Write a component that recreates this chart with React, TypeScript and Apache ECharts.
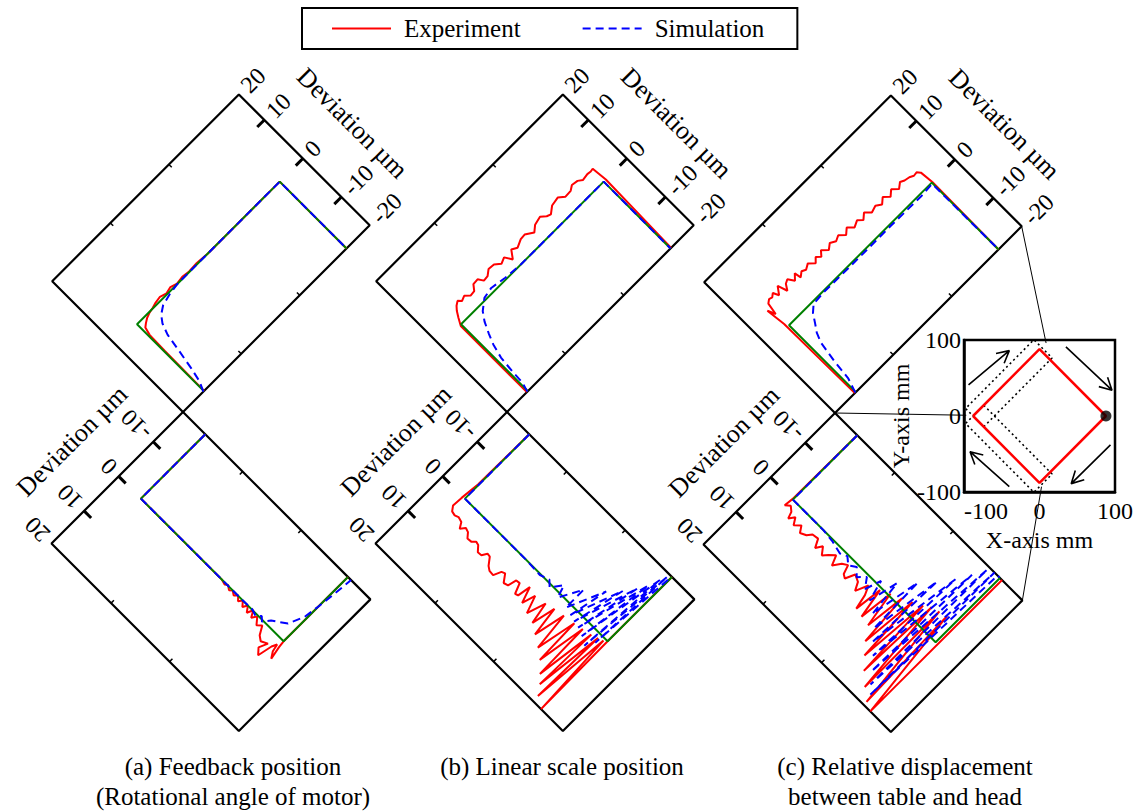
import React, { useEffect, useRef } from "react";
import * as echarts from "echarts";

// ---------------- data: [position along side (mm), deviation (µm)] ----------------
const legendNames = ["Experiment", "Simulation"];
const devTicksTop = [10, 0, -10];
const devTicksBottom = [-10, 0, 10];
const posTicks = [37, 95];
const cornerLabelsTop = ["20", "-20"];
const cornerLabelsBottom = ["20"];
const captions = [
  ["(a) Feedback position", "(Rotational angle of motor)"],
  ["(b) Linear scale position"],
  ["(c) Relative displacement", "between table and head"],
];

const commandPath = [[0, -20], [0, 0], [141.4, 0], [141.4, -20]];

const expATop = [[0.3, -20], [0.6, -7], [1, -3], [2.5, -1.5], [5, -1], [8, -0.5], [12, -0.1], [16, 0.1], [20, 0.4], [25, 0.6], [30, 0.2], [35, 0.5], [40, 0.1], [46, 0.3], [52, 0.1], [60, 0.2], [70, 0], [141.4, 0], [141.4, -20]];
const simATop = [[-0.5, -20], [2.7, -15.5], [5.1, -12.7], [7.6, -9], [10, -5.3], [13, -3.2], [16.7, -1.9], [22.4, -0.9], [31.5, -0.3], [40, 0], [141.4, 0], [141.4, -20]];
const expABot = [[0, -20], [0, 0], [80, 0], [84, 0.3], [86, -0.1], [89, 0.5], [91, 0], [94, 0.6], [96, -0.1], [99, 0.8], [101, 0], [104, 1.0], [106, 0], [109, 1.2], [111, -0.1], [113.7, 1.3], [116, 0.2], [120, 1.6], [123, 0.8], [126.6, 2.6], [130, 3.3], [134.8, 2.6], [132, 4.5], [135.7, 5.7], [138, 2.5], [139.8, 1.4], [141, 3], [143.9, 4.3], [142, 1.5], [141.4, 0], [141.4, -20]];
const simABot = [[0, -20], [0, 0], [100, 0], [110, -0.1], [115, 0.4], [118, -0.5], [121, 0.3], [124.9, -1.2], [129, -2], [134.8, -3.2], [139.7, -6.6], [141.4, -10], [143.1, -14.3], [144.5, -20]];

const expBTop = [[-1, -20], [-1, -0.2], [2, 1.2], [4.6, 2.3], [7, 3.0], [9.9, 3.5], [12, 2.9], [15.7, 3.3], [19, 2.5], [23, 2.6], [26, 3.6], [30.5, 3.7], [33, 2.7], [37, 2.8], [41, 3.6], [46, 3.5], [50, 2.6], [54.5, 3.1], [57.8, 1.7], [62, 3.2], [66, 2.6], [71.8, 3.3], [76, 3.4], [81.8, 2.4], [86, 3.3], [92.4, 3.7], [96, 2.9], [99, 2.6], [104, 3.6], [110.7, 3.9], [115, 3.0], [120.5, 3.1], [124, 3.7], [128.8, 3.5], [132, 2.9], [137, 3.1], [140, 3.0], [142.3, 3.1], [143.5, 0], [142, -20]];
const simBTop = [[-0.5, -20], [1.6, -15.5], [2, -13], [3.3, -9.5], [6, -6.8], [9, -4.9], [13, -2.7], [17.3, -1.1], [24.7, 0.4], [33, 0.8], [45, 0.3], [60, 0], [141.4, 0], [141.4, -20]];
const expBBot = [[0, -20], [-0.5, -4], [-2, 0.3], [-2.5, 2.7], [0, 3.7], [3.2, 3.9], [6, 3.6], [9.8, 3.9], [12.3, 5.1], [15, 4.1], [18.1, 4.4], [21, 5.4], [24.7, 5.3], [27, 4.6], [29.6, 4.8], [33, 5.9], [36.2, 5.8], [38.5, 4.7], [41.1, 4.8], [45, 6.3], [48, 6.9], [51.9, 7.0], [54.4, 5.3], [57, 5.0], [61, 6.6], [64.3, 6.3], [66, 4.4], [69, 4.3], [72, 6.5], [74.3, 6.3], [76, 3.4], [80, 6.8], [83, 3.9], [87.5, 7.6], [92, 3.5], [95, 8.2], [99, 3.0], [102, 9.5], [107, 2.6], [110, 11], [116, 2.2], [117, 12.5], [123, 1.8], [124, 14.5], [130, 1.4], [129, 16], [135, 0.9], [134, 18], [139, 0.5], [142, 20], [141.4, 0], [141.4, -20]];
const simBBot = [[0, -20], [0, 0], [60, 0], [75, 0.2], [82, -0.5], [86, 0.6], [92, -1.8], [95, 0.9], [104, -4], [104, 1.2], [116, -7], [110, 1.6], [124, -9.5], [115, 2], [130, -12], [120, 2.3], [134, -14], [126, 3], [137, -16.5], [132, 4], [139, -18], [136, 2], [141, -20]];

const expCTop = [[-1, -20], [-1.8, 0.8], [-3.5, 4.7], [-1, 3.2], [0.5, 5.5], [3.1, 6], [5.5, 5.8], [8, 6.3], [10, 5.2], [13.9, 6.6], [16.3, 4.7], [19, 5.8], [22, 6.2], [25, 5], [28.6, 6], [29.5, 4.7], [33, 5.4], [36, 5.0], [40, 5.6], [44, 4.6], [47, 5.4], [50, 4.7], [53, 5.6], [57, 4.6], [61, 5.4], [65, 4.8], [69, 5.3], [73, 4.3], [77, 5.2], [81, 4.2], [85.7, 4.8], [89, 4.0], [93, 4.9], [97, 3.9], [102, 4.3], [106, 3.6], [110, 4.5], [114, 3.5], [118, 4.4], [122, 3.4], [126, 4.2], [129, 3.8], [133, 3.6], [136, 3.2], [139, 3.3], [141, 2.7], [142, 0], [141.4, -20]];
const simCTop = [[-0.5, -20], [3.1, -14.5], [4.7, -10.5], [7.2, -6.4], [10, -4.6], [13.7, -3.2], [18, -1.5], [22.8, -0.4], [28, -0.3], [33.7, -0.2], [60, -0.3], [100, -0.3], [130, -0.4], [141, -0.2], [141.4, -20]];
const expCBot = [[0, -20], [-0.5, 0], [-1.3, 2], [2, 1.2], [5.3, 2], [7, 3.4], [10, 2.2], [13, 3.6], [17, 2.5], [20, 3.8], [24.4, 3.2], [27, 2.2], [31.8, 2.0], [35, 3.8], [38, 2.4], [42, 3.9], [45, 2.9], [49, 1.8], [52, 3.9], [56, 2.2], [59.8, 1.5], [62, 3.4], [64.8, 3.9], [68, 1.8], [73, 2.5], [76, 4.2], [80, 1.5], [83, 3.4], [85.4, 6.6], [88, 0.5], [92, 7], [95, -0.5], [99.5, 7.3], [103, -1.5], [106, 10], [110, -2.5], [112.7, 12.2], [117, -3.5], [120, 14.5], [122, -4.5], [128.4, 16.7], [128, -5], [136.7, 18.6], [134, -5.5], [143.3, 20], [143.5, -20]];
const simCBot = [[0, -20], [0, 0], [30, 0], [40, 0.3], [50, 1], [55, 0.3], [60, 1.5], [65, 0.5], [70, 2], [75, 0.5], [80, 2.5], [84, -1], [88, 3.5], [93, -3], [96, 5], [103, -6], [104, 7], [112, -9], [110, 9], [120, -12], [117, 11], [126, -15], [124, 13.5], [131, -18], [130, 15.5], [136, -19], [135, 17], [139, -19], [141, -20]];

// inset (X-axis mm, Y-axis mm)
const squarePath = [[-88, 0], [0, 88], [88, 0], [0, -88], [-88, 0]];
const startPoint = [[88, 0]];
const arrows = [[-94, 41, -40, 86], [35, 91, 96, 34], [94, -38, 42, -89], [-40, -93, -92, -47]];
const bandAlong = [0, 128];
const bandNormal = [-20, 14];
const linkTargets = [[8, 96], [-97, 1], [2, -93]];

// ---------------- geometry helpers ----------------
const C = Math.SQRT1_2;
const PANEL_M = [[183, 412], [507, 412], [835, 413]];

function makeRect(M: number[], top: boolean) {
  return top
    ? { M, eu: [C, -C], ev: [-C, -C], UL: 264, VL: 185, U0: 29.5, KS: 1.427, V0: 94.5, KD: 5.45, top }
    : { M, eu: [C, C], ev: [-C, C], UL: 265, VL: 186, U0: 31.5, KS: 1.427, V0: 91, KD: 4.89, top };
}
function raw(r: any, u: number, v: number) {
  return [r.M[0] + r.eu[0] * u + r.ev[0] * v, r.M[1] + r.eu[1] * u + r.ev[1] * v];
}
function toPage(r: any, s: number, d: number) {
  let u = r.U0 + r.KS * s;
  let v = r.V0 + r.KD * d;
  u = Math.max(0, Math.min(r.UL, u));
  v = Math.max(0, Math.min(r.VL, v));
  return raw(r, u, v);
}
const IX0 = 964, IY0 = 340, IW = 152, IH = 152;
function insetToPage(x: number, y: number) {
  return [IX0 + ((x + 100) / 200) * IW, IY0 + ((100 - y) / 200) * IH];
}

const FONT = "Liberation Serif";

export default function App() {
  const ref = useRef<HTMLDivElement>(null);
  useEffect(() => {
    if (!ref.current) return;
    const chart = echarts.init(ref.current, undefined, { renderer: "svg" });
    const series: any[] = [];
    const graphics: any[] = [];
    const pageLine = (data: number[][], color: string, width: number, z = 1, extra: any = {}) => ({
      type: "line", xAxisIndex: 0, yAxisIndex: 0, data, showSymbol: false, symbol: "none",
      itemStyle: { color }, color,
      lineStyle: { color, width, ...(extra.lineStyle || {}) }, silent: true, z, animation: false,
      ...(extra.name ? { name: extra.name } : {}),
    });

    const panelData = [
      [expATop, simATop, expABot, simABot],
      [expBTop, simBTop, expBBot, simBBot],
      [expCTop, simCTop, expCBot, simCBot],
    ];

    PANEL_M.forEach((M, pi) => {
      [true, false].forEach((top) => {
        const r = makeRect(M, top);
        const exp = top ? panelData[pi][0] : panelData[pi][2];
        const sim = top ? panelData[pi][1] : panelData[pi][3];
        const frame = [[0, 0], [r.UL, 0], [r.UL, r.VL], [0, r.VL], [0, 0]].map(([u, v]) => raw(r, u, v));
        series.push(pageLine(frame, "#000", 2.2, 1));
        // small position ticks on the long edges
        posTicks.forEach((s) => {
          const u = r.U0 + r.KS * s;
          series.push(pageLine([raw(r, u, 0), raw(r, u, 4)], "#000", 1.5, 1));
          series.push(pageLine([raw(r, u, r.VL), raw(r, u, r.VL - 4)], "#000", 1.5, 1));
        });
        series.push(pageLine(exp.map(([s, d]) => toPage(r, s, d)), "#ff0000", 2, 2, { name: legendNames[0] }));
        series.push(pageLine(commandPath.map(([s, d]) => toPage(r, s, d)), "#008000", 2, 3));
        series.push(pageLine(sim.map(([s, d]) => toPage(r, s, d)), "#0000ff", 2, 4, { name: legendNames[1], lineStyle: { type: [8, 5] } }));
        const ue = top ? r.UL : 0;
        const inward = top ? -1 : 1;
        const ticks = top ? devTicksTop : devTicksBottom;
        ticks.forEach((t) => {
          const v = r.V0 + r.KD * t;
          series.push(pageLine([raw(r, ue, v), raw(r, ue + inward * 10, v)], "#000", 3, 1));
        });
        const labels: [string, number][] = ticks.map((t) => [String(t), r.V0 + r.KD * t]);
        if (top) {
          labels.push([cornerLabelsTop[0], r.VL]);
          labels.push([cornerLabelsTop[1], 0]);
        } else {
          labels.push([cornerLabelsBottom[0], r.VL]);
        }
        labels.forEach(([txt, v]) => {
          const p = raw(r, ue - inward * 8, v);
          graphics.push({
            type: "text", x: p[0], y: p[1], rotation: top ? Math.PI / 4 : (3 * Math.PI) / 4, silent: true,
            style: { text: txt, fill: "#000", fontSize: 24, fontFamily: FONT, align: "left", verticalAlign: "middle", textAlign: "left", textVerticalAlign: "middle" },
          });
        });
        const np = top ? raw(r, r.UL + 60, r.VL / 2 - 8) : raw(r, -58, r.VL / 2 + 6);
        graphics.push({
          type: "text", x: np[0], y: np[1], rotation: top ? -Math.PI / 4 : Math.PI / 4, silent: true,
          style: { text: "Deviation µm", fill: "#000", fontSize: 26, fontFamily: FONT, align: "center", verticalAlign: "middle", textAlign: "center", textVerticalAlign: "middle" },
        });
      });
    });

    const rcTop = makeRect(PANEL_M[2], true);
    const rcBot = makeRect(PANEL_M[2], false);
    const linkStarts = [raw(rcTop, rcTop.UL, 0), PANEL_M[2], raw(rcBot, rcBot.UL, 0)];
    linkStarts.forEach((p, i) => {
      const q = insetToPage(linkTargets[i][0], linkTargets[i][1]);
      series.push(pageLine([p, q], "#000", 1, 1));
    });

    const insetLine = (data: number[][], color: string, width: number, extra: any = {}) => ({
      type: "line", xAxisIndex: 1, yAxisIndex: 1, data, showSymbol: false, symbol: "none", silent: true,
      itemStyle: { color },
      lineStyle: { color, width, ...(extra.lineStyle || {}) }, z: extra.z || 5, animation: false, clip: false,
    });
    [[1, 1], [1, -1]].forEach(([tx, ty]) => {
      const t = [tx * C, ty * C];
      const n = [-C, ty * C];
      const corner = (a: number, b: number) => [-88 + t[0] * a + n[0] * b, t[1] * a + n[1] * b];
      const poly = [corner(bandAlong[0], bandNormal[0]), corner(bandAlong[1], bandNormal[0]), corner(bandAlong[1], bandNormal[1]), corner(bandAlong[0], bandNormal[1]), corner(bandAlong[0], bandNormal[0])];
      series.push(insetLine(poly, "#000", 1.6, { lineStyle: { type: [2, 3] } }));
    });
    series.push(insetLine(squarePath, "#ff0000", 2.5, { z: 6 }));
    arrows.forEach(([x0, y0, x1, y1]) => {
      const L = Math.hypot(x1 - x0, y1 - y0);
      const ux = (x1 - x0) / L, uy = (y1 - y0) / L;
      const h = 18, a = (28 * Math.PI) / 180;
      const arm = (sg: number) => [x1 - h * (ux * Math.cos(a) - sg * uy * Math.sin(a)), y1 - h * (uy * Math.cos(a) + sg * ux * Math.sin(a))];
      series.push(insetLine([[x0, y0], [x1, y1], arm(1), [x1, y1], arm(-1)], "#000", 1.6));
    });
    series.push({
      type: "scatter", xAxisIndex: 1, yAxisIndex: 1, data: startPoint, symbolSize: 11, itemStyle: { color: "#000" }, silent: true, z: 7,
    });

    const capX = [233, 562, 905];
    captions.forEach((lines, i) => {
      lines.forEach((txt, j) => {
        graphics.push({
          type: "text", x: capX[i], y: 766 + j * 30, silent: true,
          style: { text: txt, fill: "#000", fontSize: 25, fontFamily: FONT, align: "center", verticalAlign: "middle", textAlign: "center", textVerticalAlign: "middle" },
        });
      });
    });

    const insetAxisCommon = {
      type: "value", min: -100, max: 100, interval: 100,
      axisLine: { show: true, onZero: false, lineStyle: { color: "#000", width: 2.5 } },
      axisTick: { show: false }, splitLine: { show: false },
      nameTextStyle: { color: "#000", fontSize: 24, fontFamily: FONT },
      nameLocation: "middle",
    };

    chart.setOption({
      animation: false,
      legend: {
        data: legendNames, left: 302, top: 8, orient: "horizontal", padding: [8, 33, 8, 29], itemGap: 61,
        itemWidth: 59, itemHeight: 28, borderColor: "#000", borderWidth: 2, selectedMode: false,
        itemStyle: { opacity: 0 },
        textStyle: { fontSize: 25, fontFamily: FONT, color: "#000", padding: [0, 0, 0, 8] },
      },
      grid: [
        { left: 0, top: 0, width: 1136, height: 811, show: false },
        { left: IX0, top: IY0, width: IW, height: IH, show: true, borderColor: "#000", borderWidth: 2.5, backgroundColor: "transparent" },
      ],
      xAxis: [
        { type: "value", gridIndex: 0, min: 0, max: 1136, show: false },
        { ...insetAxisCommon, gridIndex: 1, name: "X-axis mm", nameGap: 36, axisLabel: { color: "#000", fontSize: 24, fontFamily: FONT, margin: 7, alignMinLabel: "left" } },
      ],
      yAxis: [
        { type: "value", gridIndex: 0, min: 0, max: 811, inverse: true, show: false },
        { ...insetAxisCommon, gridIndex: 1, name: "Y-axis mm", nameGap: 26, nameRotate: 90, axisLabel: { color: "#000", fontSize: 24, fontFamily: FONT, margin: 3 } },
      ],
      series,
      graphic: { elements: graphics },
    });
    return () => chart.dispose();
  }, []);
  return <div ref={ref} style={{ position: "absolute", left: 0, top: 0, width: 1136, height: 811, background: "#fff" }} />;
}
